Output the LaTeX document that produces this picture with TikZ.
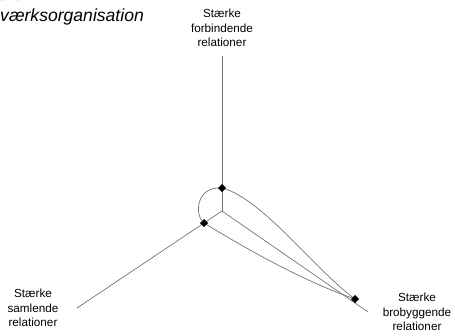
\documentclass[tikz,border=0pt]{standalone}
\usepackage{fontspec}
\setmainfont{Liberation Sans}
\usetikzlibrary{shapes.geometric}

\tikzset{
  linje/.style={draw=black!55, line width=0.6pt},
  knude/.style={diamond, fill=black, inner sep=0pt, minimum size=7pt},
  etiket/.style={align=center, font=\fontsize{10}{12.4}\selectfont},
  titel/.style={anchor=base west, inner sep=0pt, font=\fontsize{15}{18}\selectfont\itshape}
}

\begin{document}
\begin{tikzpicture}[x=0.03cm, y=-0.03cm]
    % Frame of the picture
    \useasboundingbox (0,0) rectangle (455,335);
    \clip (0,0) rectangle (455,335);

    % Title, cut off by the frame
    \node[titel] (titelA) at (-2,1) {are};
    \node[titel] (titelB) at (0,21) {værksorganisation};

    % The three kinds of relations
    \node[etiket] (forbind) at (222,28) {Stærke\\forbindende\\relationer};
    \node[etiket] (saml) at (33,308) {Stærke\\samlende\\relationer};
    \node[etiket] (bro) at (417,312) {Stærke\\brobyggende\\relationer};

    % Axes
    \coordinate (midt) at (222,211);
    \coordinate (forbindEnde) at (222,56);
    \coordinate (samlEnde) at (77,308);
    \coordinate (broEnde) at (368,312);
    \draw[linje] (forbindEnde) -- (midt);
    \draw[linje] (midt) -- (samlEnde);
    \draw[linje] (midt) -- (broEnde);

    % Curves between the points
    \coordinate (top) at (222,188);
    \coordinate (venstre) at (204,223);
    \coordinate (hoejre) at (355,299);
    \draw[linje] (top) .. controls (196,186) and (194,215) .. (venstre);
    \draw[linje] (top) .. controls (262,198) and (315,270) .. (hoejre);
    \draw[linje] (venstre) .. controls (240,245) and (300,280) .. (hoejre);

    % Points
    \node[knude] (topKnude) at (top) {};
    \node[knude] (venstreKnude) at (venstre) {};
    \node[knude] (hoejreKnude) at (hoejre) {};
\end{tikzpicture}
\end{document}
